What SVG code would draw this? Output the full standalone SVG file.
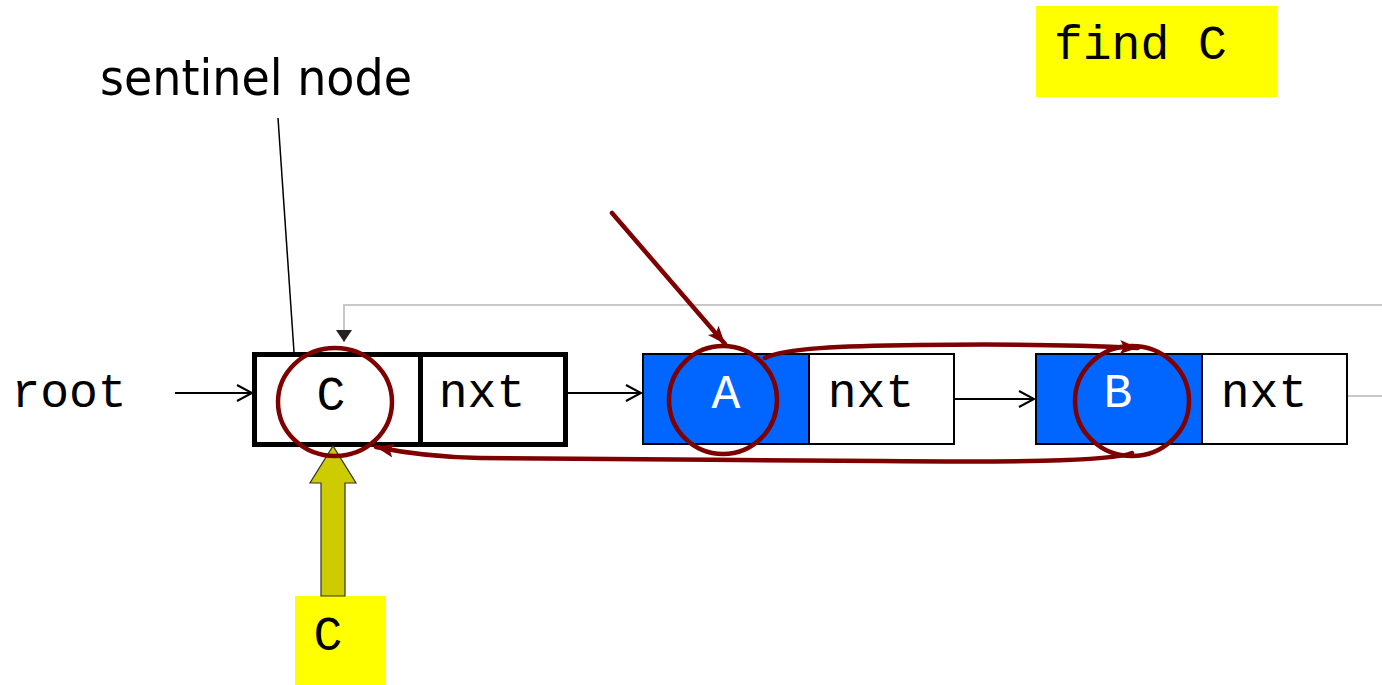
<svg xmlns="http://www.w3.org/2000/svg" width="1382" height="685" viewBox="0 0 1382 685">
<style>
.mono{font-family:"Liberation Mono","Courier New",monospace;font-size:48px;fill:#000}
.cell{fill:#fff;stroke:#000;stroke-width:2}
.blue{fill:#0066FF;stroke:#000;stroke-width:2}
.thick{fill:#fff;stroke:#000;stroke-width:5}
.blk{fill:none;stroke:#000;stroke-width:2}
.red{fill:none;stroke:#7F0000;stroke-width:4.5;stroke-linecap:round;stroke-linejoin:round}
.gray{fill:none;stroke:#C8C8C8;stroke-width:2}
</style>
<defs>
<marker id="open" markerUnits="userSpaceOnUse" markerWidth="20" markerHeight="20" refX="17" refY="10" orient="auto">
<polyline points="2,2 17,10 2,18" fill="none" stroke="#000" stroke-width="2"/>
</marker>
<marker id="redhead" markerUnits="userSpaceOnUse" markerWidth="24" markerHeight="20" refX="20" refY="10" orient="auto">
<path d="M2,3 L20,10 L2,17 L6,10 Z" fill="#7F0000"/>
</marker>
<marker id="grayhead" markerUnits="userSpaceOnUse" markerWidth="20" markerHeight="20" refX="14" refY="10" orient="auto">
<path d="M2,2 L14,10 L2,18 Z" fill="#222"/>
</marker>
</defs>
<rect width="1382" height="685" fill="#fff"/>

<g id="label-find">
<rect x="1036" y="6" width="242" height="91" fill="#FFFF00"/>
<text class="mono" x="1054" y="59">find C</text>
</g>

<g id="label-sentinel">
<text x="100" y="95" font-family="'DejaVu Sans Condensed','DejaVu Sans',sans-serif" font-size="50" textLength="312" lengthAdjust="spacingAndGlyphs">sentinel node</text>
</g>

<g id="root">
<text class="mono" x="69" y="407" text-anchor="middle">root</text>
</g>

<g id="node-sentinel">
<rect class="thick" x="254.5" y="354.5" width="311" height="90"/>
<line x1="420.5" y1="354.5" x2="420.5" y2="444.5" stroke="#000" stroke-width="5"/>
<text class="mono" x="331" y="410" text-anchor="middle">C</text>
<text class="mono" x="482" y="407" text-anchor="middle">nxt</text>
</g>

<g id="node-A">
<rect class="blue" x="643" y="354" width="166" height="90"/>
<rect class="cell" x="809" y="354" width="145" height="90"/>
<text class="mono" x="726" y="408" text-anchor="middle" fill="#fff" style="fill:#fff">A</text>
<text class="mono" x="871" y="407" text-anchor="middle">nxt</text>
</g>

<g id="node-B">
<rect class="blue" x="1036" y="354" width="166" height="90"/>
<rect class="cell" x="1202" y="354" width="145" height="90"/>
<text class="mono" x="1118" y="407" text-anchor="middle" style="fill:#fff">B</text>
<text class="mono" x="1264" y="407" text-anchor="middle">nxt</text>
</g>

<g id="label-C">
<rect x="295" y="596" width="91" height="89" fill="#FFFF00"/>
<text class="mono" x="328" y="650" text-anchor="middle">C</text>
</g>

<g id="connectors">
<line x1="278" y1="118" x2="294" y2="352" stroke="#000" stroke-width="1.5"/>
<polyline class="gray" points="1382,305 344,305 344,342" marker-end="url(#grayhead)"/>
<line class="gray" x1="1348" y1="396" x2="1382" y2="396"/>
<line class="blk" x1="175" y1="393" x2="252" y2="393" marker-end="url(#open)"/>
<line class="blk" x1="568" y1="393" x2="641" y2="393" marker-end="url(#open)"/>
<line class="blk" x1="955" y1="399" x2="1034" y2="399" marker-end="url(#open)"/>
<path d="M321,596 L321,483 L310,483 L333,446 L356,483 L345,483 L345,596 Z" fill="#CCCC00" stroke="#333" stroke-width="1.2"/>
</g>

<g id="highlights">
<ellipse class="red" cx="335" cy="402" rx="57" ry="54"/>
<ellipse class="red" cx="723" cy="400" rx="54" ry="54"/>
<ellipse class="red" cx="1132" cy="401" rx="57" ry="55"/>
<line class="red" x1="612" y1="213" x2="725" y2="344" marker-end="url(#redhead)"/>
<path class="red" d="M765,358 C785,348 840,346 920,345 C1000,344 1080,345 1138,348" marker-end="url(#redhead)"/>
<path class="red" d="M1132,453 C1110,462 1000,462 880,461 C760,460 560,459 480,458 C430,457 400,452 376,447" marker-end="url(#redhead)"/>
</g>
</svg>
